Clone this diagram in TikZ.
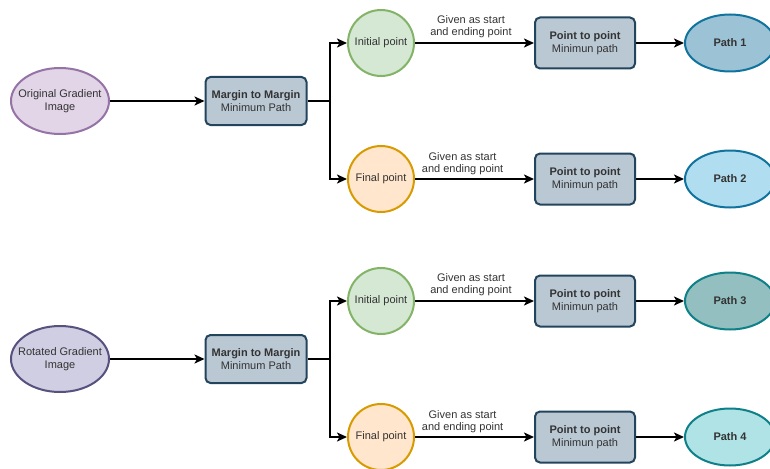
\documentclass[tikz,border=0pt]{standalone}
\usepackage{fontspec}
\setmainfont{Liberation Sans}
\usetikzlibrary{arrows.meta,shapes.geometric}

\definecolor{txt}{HTML}{333333}
\definecolor{purpleF}{HTML}{E1D5E7}\definecolor{purpleD}{HTML}{9673A6}
\definecolor{lavF}{HTML}{D0CEE2}\definecolor{lavD}{HTML}{56517E}
\definecolor{boxF}{HTML}{BAC8D3}\definecolor{boxD}{HTML}{23445D}
\definecolor{greenF}{HTML}{D5E8D4}\definecolor{greenD}{HTML}{82B366}
\definecolor{orangeF}{HTML}{FFE6CC}\definecolor{orangeD}{HTML}{D79B00}
\definecolor{pathAF}{HTML}{9CC3D5}\definecolor{pathAD}{HTML}{10739E}
\definecolor{pathBF}{HTML}{B1DDF0}
\definecolor{pathCF}{HTML}{93BFC0}\definecolor{pathCD}{HTML}{0E8088}
\definecolor{pathDF}{HTML}{B0E3E6}

\tikzset{
  base/.style={line width=2pt, font=\fontsize{11}{13}\selectfont, text=txt, align=center, inner sep=0pt},
  source/.style={base, ellipse, inner xsep=-9pt, minimum width=98pt, minimum height=66pt},
  mbox/.style={base, rectangle, rounded corners=5pt, fill=boxF, draw=boxD, minimum width=101pt, minimum height=48pt},
  pbox/.style={base, rectangle, rounded corners=5pt, fill=boxF, draw=boxD, minimum width=100pt, minimum height=51pt},
  pt/.style={base, circle, minimum size=66pt},
  result/.style={base, ellipse, minimum width=90pt, minimum height=57pt, font=\fontsize{11}{13}\selectfont\bfseries},
  arr/.style={line width=2pt, -{Stealth[length=10pt,width=9pt,inset=2.5pt]}},
  note/.style={font=\fontsize{11}{12}\selectfont, text=txt, align=center, inner sep=0pt},
}

\begin{document}
\begin{tikzpicture}[x=1pt,y=-1pt]
\useasboundingbox (0,0) rectangle (770,468);
\clip (0,0) rectangle (770,468);

% upper chain
\node[source, fill=purpleF, draw=purpleD] (src1) at (60,101) {Original Gradient\\Image};
\node[mbox] (mm1) at (256,101) {\textbf{Margin to Margin}\\Minimum Path};
\node[pt, fill=greenF, draw=greenD] (ini1) at (381,43) {Initial point};
\node[pt, fill=orangeF, draw=orangeD] (fin1) at (381,179) {Final point};
\node[pbox] (pp1) at (585,43) {\textbf{Point to point}\\Minimun path};
\node[pbox] (pp2) at (585,179) {\textbf{Point to point}\\Minimun path};
\node[result, fill=pathAF, draw=pathAD] (path1) at (730,43) {Path 1};
\node[result, fill=pathBF, draw=pathAD] (path2) at (730,179) {Path 2};
\coordinate (split1) at (330,101);

\draw[arr] (src1) -- (mm1);
\draw[line width=2pt] (mm1.east) -- (split1);
\draw[arr] (split1) |- (ini1.west);
\draw[arr] (split1) |- (fin1.west);
\draw[arr] (ini1) -- node[note, pos=0.47, above=4pt] {Given as start\\and ending point} (pp1);
\draw[arr] (fin1) -- node[note, pos=0.40, above=3pt] {Given as start\\and ending point} (pp2);
\draw[arr] (pp1) -- (path1);
\draw[arr] (pp2) -- (path2);

% lower chain
\node[source, fill=lavF, draw=lavD] (src2) at (60,359) {Rotated Gradient\\Image};
\node[mbox] (mm2) at (256,359) {\textbf{Margin to Margin}\\Minimum Path};
\node[pt, fill=greenF, draw=greenD] (ini2) at (381,301) {Initial point};
\node[pt, fill=orangeF, draw=orangeD] (fin2) at (381,437) {Final point};
\node[pbox] (pp3) at (585,301) {\textbf{Point to point}\\Minimun path};
\node[pbox] (pp4) at (585,437) {\textbf{Point to point}\\Minimun path};
\node[result, fill=pathCF, draw=pathCD] (path3) at (730,301) {Path 3};
\node[result, fill=pathDF, draw=pathCD] (path4) at (730,437) {Path 4};
\coordinate (split2) at (330,359);

\draw[arr] (src2) -- (mm2);
\draw[line width=2pt] (mm2.east) -- (split2);
\draw[arr] (split2) |- (ini2.west);
\draw[arr] (split2) |- (fin2.west);
\draw[arr] (ini2) -- node[note, pos=0.47, above=4pt] {Given as start\\and ending point} (pp3);
\draw[arr] (fin2) -- node[note, pos=0.40, above=3pt] {Given as start\\and ending point} (pp4);
\draw[arr] (pp3) -- (path3);
\draw[arr] (pp4) -- (path4);
\end{tikzpicture}
\end{document}
